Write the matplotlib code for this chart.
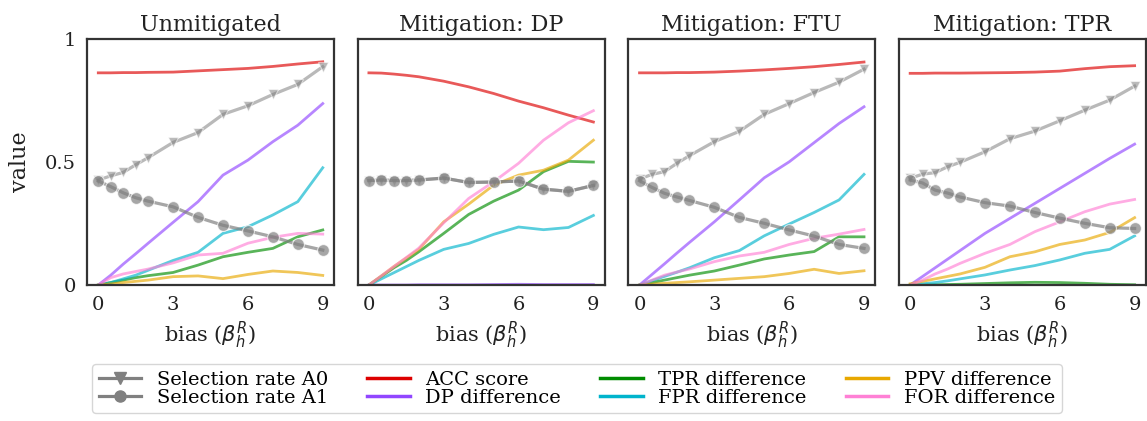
import matplotlib
matplotlib.use("Agg")
import matplotlib.pyplot as plt
from matplotlib.lines import Line2D

plt.rcParams['font.family'] = ['DejaVu Serif']
plt.rcParams['mathtext.fontset'] = 'dejavusans'

x = [0, 0.5, 1, 1.5, 2, 3, 4, 5, 6, 7, 8, 9]

titles = ["Unmitigated", "Mitigation: DP", "Mitigation: FTU", "Mitigation: TPR"]

# Unmitigated
un_acc = [0.863, 0.863, 0.864, 0.864, 0.865, 0.866, 0.871, 0.876, 0.881, 0.889, 0.899, 0.908]
un_a0 = [0.427, 0.444, 0.458, 0.489, 0.518, 0.580, 0.620, 0.694, 0.729, 0.775, 0.816, 0.888]
un_a1 = [0.423, 0.400, 0.375, 0.355, 0.341, 0.318, 0.275, 0.243, 0.220, 0.196, 0.165, 0.142]
un_dp = [0.0, 0.04, 0.085, 0.127, 0.17, 0.255, 0.339, 0.447, 0.508, 0.583, 0.650, 0.738]
un_tpr = [0.0, 0.01, 0.02, 0.03, 0.038, 0.051, 0.081, 0.115, 0.133, 0.149, 0.196, 0.224]
un_fpr = [0.0, 0.01, 0.025, 0.04, 0.06, 0.100, 0.133, 0.210, 0.237, 0.285, 0.339, 0.477]
un_ppv = [0.0, 0.005, 0.01, 0.015, 0.02, 0.034, 0.037, 0.026, 0.043, 0.057, 0.051, 0.039]
un_for = [0.0, 0.03, 0.045, 0.055, 0.065, 0.09, 0.122, 0.129, 0.170, 0.194, 0.210, 0.207]

# Mitigation: DP
dp_acc = [0.863, 0.862, 0.858, 0.853, 0.847, 0.829, 0.806, 0.779, 0.748, 0.721, 0.691, 0.663]
dp_a0 = [0.425, 0.427, 0.425, 0.425, 0.427, 0.435, 0.417, 0.419, 0.423, 0.390, 0.381, 0.405]
dp_a1 = [0.425, 0.427, 0.425, 0.425, 0.427, 0.435, 0.417, 0.419, 0.423, 0.390, 0.381, 0.405]
dp_dp = [0.0, 0.0, 0.0, 0.0, 0.001, 0.001, 0.001, 0.002, 0.003, 0.002, 0.002, 0.002]
dp_tpr = [0.0, 0.035, 0.07, 0.10, 0.135, 0.21, 0.287, 0.341, 0.386, 0.461, 0.503, 0.50]
dp_fpr = [0.0, 0.025, 0.05, 0.075, 0.10, 0.145, 0.169, 0.206, 0.236, 0.225, 0.234, 0.283]
dp_ppv = [0.0, 0.037, 0.075, 0.11, 0.145, 0.257, 0.329, 0.406, 0.447, 0.467, 0.508, 0.589]
dp_for = [0.0, 0.037, 0.075, 0.112, 0.15, 0.253, 0.352, 0.42, 0.495, 0.589, 0.66, 0.709]

# Mitigation: FTU
ftu_acc = [0.863, 0.863, 0.863, 0.864, 0.864, 0.866, 0.870, 0.875, 0.881, 0.888, 0.897, 0.907]
ftu_a0 = [0.431, 0.450, 0.461, 0.495, 0.526, 0.583, 0.625, 0.694, 0.738, 0.783, 0.825, 0.878]
ftu_a1 = [0.424, 0.397, 0.373, 0.358, 0.344, 0.316, 0.275, 0.251, 0.224, 0.199, 0.165, 0.149]
ftu_dp = [0.0, 0.043, 0.086, 0.13, 0.173, 0.257, 0.346, 0.436, 0.501, 0.579, 0.657, 0.725]
ftu_tpr = [0.0, 0.01, 0.02, 0.03, 0.04, 0.057, 0.081, 0.106, 0.122, 0.136, 0.196, 0.196]
ftu_fpr = [0.0, 0.018, 0.035, 0.052, 0.07, 0.111, 0.140, 0.200, 0.248, 0.295, 0.346, 0.450]
ftu_ppv = [0.0, 0.004, 0.007, 0.01, 0.013, 0.020, 0.027, 0.034, 0.047, 0.064, 0.047, 0.058]
ftu_for = [0.0, 0.02, 0.04, 0.053, 0.065, 0.095, 0.118, 0.133, 0.165, 0.190, 0.207, 0.226]

# Mitigation: TPR
tp_acc = [0.861, 0.861, 0.862, 0.862, 0.862, 0.863, 0.864, 0.866, 0.870, 0.880, 0.888, 0.892]
tp_a0 = [0.434, 0.451, 0.457, 0.481, 0.499, 0.542, 0.595, 0.626, 0.668, 0.711, 0.752, 0.809]
tp_a1 = [0.427, 0.415, 0.386, 0.374, 0.358, 0.335, 0.321, 0.295, 0.272, 0.251, 0.233, 0.230]
tp_dp = [0.0, 0.035, 0.07, 0.105, 0.14, 0.21, 0.271, 0.332, 0.393, 0.454, 0.515, 0.573]
tp_tpr = [0.0, 0.0, 0.001, 0.002, 0.003, 0.006, 0.009, 0.011, 0.01, 0.007, 0.003, 0.001]
tp_fpr = [0.0, 0.005, 0.01, 0.017, 0.025, 0.041, 0.061, 0.079, 0.102, 0.129, 0.145, 0.200]
tp_ppv = [0.005, 0.015, 0.025, 0.035, 0.045, 0.072, 0.115, 0.135, 0.165, 0.183, 0.214, 0.274]
tp_for = [0.0, 0.02, 0.045, 0.065, 0.088, 0.129, 0.165, 0.217, 0.257, 0.298, 0.329, 0.348]

panels = [
    (un_acc, un_a0, un_a1, un_dp, un_tpr, un_fpr, un_ppv, un_for),
    (dp_acc, dp_a0, dp_a1, dp_dp, dp_tpr, dp_fpr, dp_ppv, dp_for),
    (ftu_acc, ftu_a0, ftu_a1, ftu_dp, ftu_tpr, ftu_fpr, ftu_ppv, ftu_for),
    (tp_acc, tp_a0, tp_a1, tp_dp, tp_tpr, tp_fpr, tp_ppv, tp_for),
]

metric_names = ["ACC score", "DP difference", "TPR difference", "FPR difference", "PPV difference", "FOR difference"]
metric_colors = ["#dd0000", "#9146ff", "#008c00", "#00b4cc", "#e8a800", "#ff80d5"]

fig, axes = plt.subplots(1, 4, figsize=(11.47, 4.21), dpi=100, sharey=True)
fig.subplots_adjust(left=0.0759, right=0.999, bottom=0.323, top=0.907, wspace=0.096)

for ax, title, vals in zip(axes, titles, panels):
    acc, a0, a1, dp, tpr, fpr, ppv, forr = vals
    for series, col in zip([acc, dp, tpr, fpr, ppv, forr], metric_colors):
        ax.plot(x, series, color=col, lw=2.0, alpha=0.65)
    ax.plot(x, a0, color="gray", lw=2.3, alpha=0.55, marker="v", markersize=7,
            markeredgecolor="white", markeredgewidth=0.8)
    ax.plot(x, a1, color="gray", lw=2.3, alpha=0.7, marker="o", markersize=8.5,
            markeredgecolor="white", markeredgewidth=0.8)
    ax.set_ylim(0, 1)
    ax.set_xticks([0, 3, 6, 9])
    ax.set_yticks([0, 0.5, 1])
    ax.set_yticklabels(["0", "0.5", "1"])
    ax.tick_params(length=0, labelsize=14, pad=8, labelcolor="#222222")
    ax.set_title(title, fontsize=16, color="#222222", pad=6)
    ax.set_xlabel(r"bias ($\beta_h^R$)", fontsize=15, color="#222222")
    for sp in ax.spines.values():
        sp.set_color("#333333")
        sp.set_linewidth(1.6)

axes[0].set_ylabel("value", fontsize=16, color="#222222", labelpad=10)

handles = [
    Line2D([], [], color="gray", lw=2.3, marker="v", markersize=8),
    Line2D([], [], color="gray", lw=2.3, marker="o", markersize=8),
]
labels = ["Selection rate A0", "Selection rate A1"]
for name, col in zip(metric_names, metric_colors):
    handles.append(Line2D([], [], color=col, lw=2.5))
    labels.append(name)

fig.legend(handles, labels, loc="lower center", bbox_to_anchor=(0.503, -0.005), ncol=4,
           fontsize=14, frameon=True, edgecolor="#cccccc", handlelength=2.2,
           columnspacing=2.0, labelspacing=0.0, borderpad=0.35, handletextpad=0.8)

fig.savefig("out.png", dpi=100)
